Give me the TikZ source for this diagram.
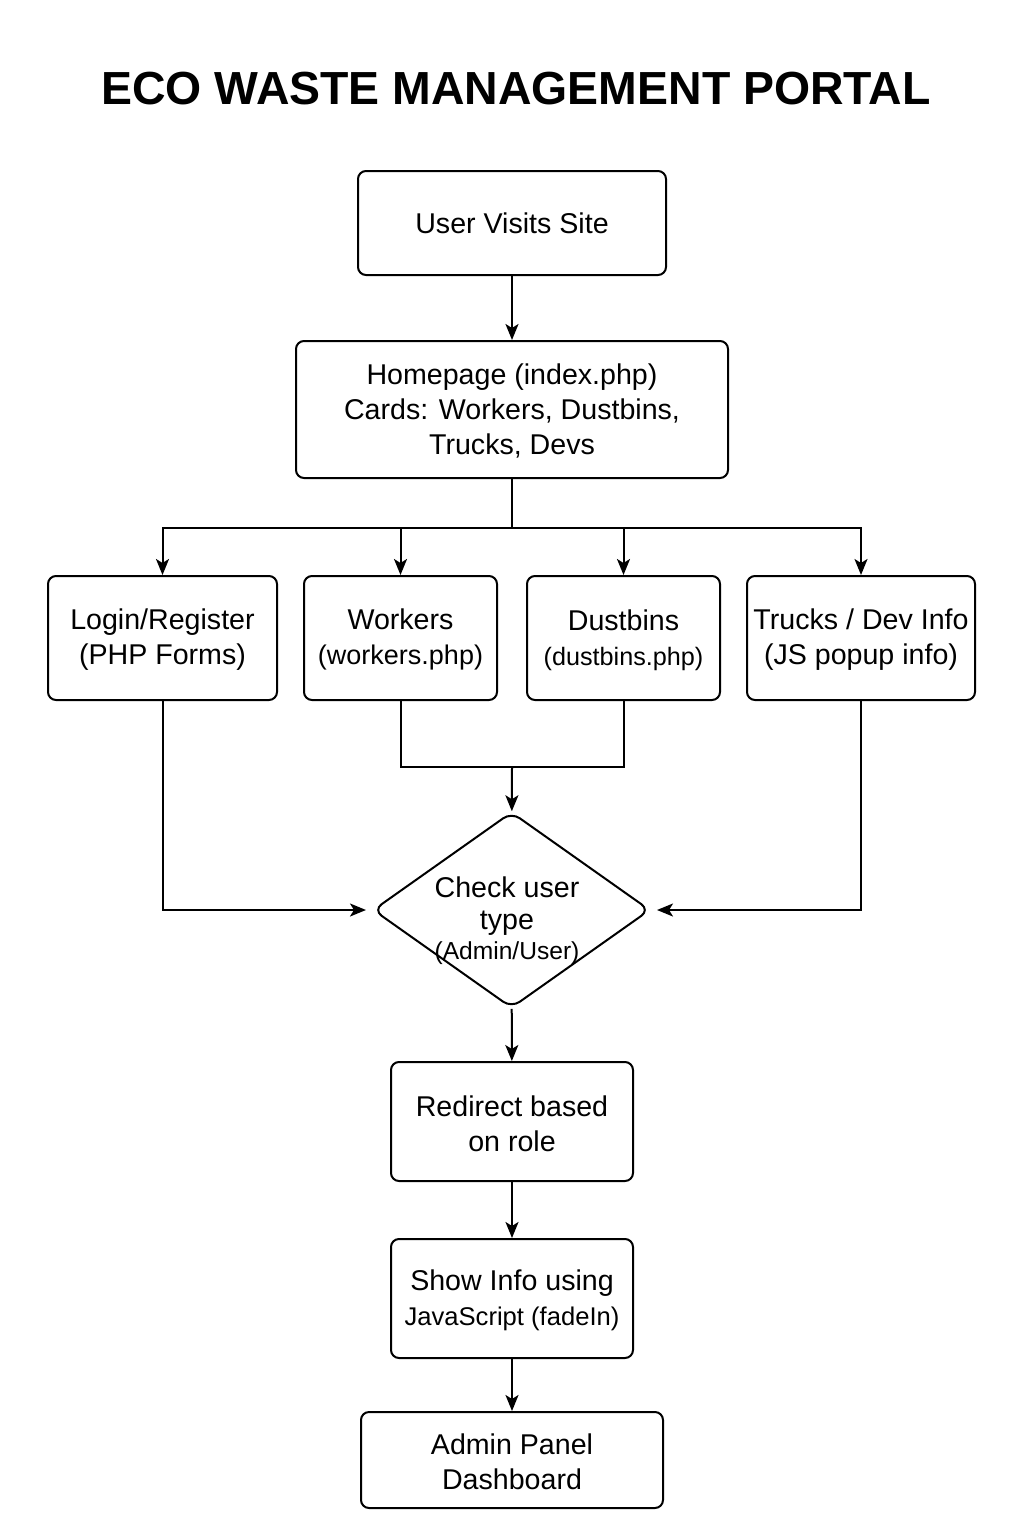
\documentclass[tikz,border=0pt]{standalone}
\usepackage{fontspec}
\setmainfont{Liberation Sans}
\usepackage{tikz}
\usetikzlibrary{arrows.meta,shapes.geometric}

\tikzset{
  box/.style={draw, line width=1pt, rounded corners=4pt, align=center, inner sep=1pt,
    font=\fontsize{14.3}{17.5}\selectfont},
  dia/.style={draw, diamond, line width=1pt, rounded corners=5pt, inner sep=0pt,
    minimum width=138.5pt, minimum height=98pt},
  arr/.style={-{Stealth[length=8pt,width=6.5pt,inset=2pt]}, line width=1pt},
  ln/.style={line width=1pt}
}
\newcommand{\smalltxt}[1]{{\fontsize{12.8}{17.5}\selectfont #1}}

\begin{document}
\begin{tikzpicture}[x=0.5pt,y=-0.5pt]
			\useasboundingbox (0,0) rectangle (1024,1536);
			\node at (516,89) (title) {\fontsize{23.2}{27}\selectfont\bfseries ECO WASTE MANAGEMENT PORTAL};
			\node[box, minimum width=154pt, minimum height=52pt] at (512,223) (visit) {User Visits Site};
			\node[box, minimum width=216pt, minimum height=68.5pt] at (512,409.5) (home)
				{\strut Homepage (index.php)\\Cards: Workers, Dustbins,\\Trucks, Devs};
			\node[box, minimum width=114.5pt, minimum height=62pt] at (162.5,638) (login) {\strut Login/Register\\(PHP Forms)};
			\node[box, minimum width=96.5pt, minimum height=62pt] at (400.5,638) (work)
				{\strut Workers\\{\fontsize{13.5}{17.5}\selectfont (workers.php)}};
			\node[box, minimum width=96.5pt, minimum height=62pt] at (623.5,638) (dust)
				{\strut Dustbins\\{\fontsize{12.6}{17.5}\selectfont (dustbins.php)}};
			\node[box, minimum width=114pt, minimum height=62pt] at (861,638) (truck) {\strut Trucks / Dev Info\\(JS popup info)};
			\node[dia] at (511.5,910) (chk) {};
			\node[align=center, font=\fontsize{14.3}{16}\selectfont] at (507,921) (chkt)
				{Check user\\type\\[-1pt]{\fontsize{12.3}{14}\selectfont (Admin/User)}};
			\node[box, minimum width=121pt, minimum height=59.5pt] at (512,1121.5) (redir) {\strut Redirect based\\on role};
			\node[box, minimum width=121pt, minimum height=59.5pt] at (512,1298.5) (show)
				{\strut Show Info using\\\smalltxt{JavaScript (fadeIn)}};
			\node[box, minimum width=151pt, minimum height=48pt] at (512,1460) (admin) {\strut Admin Panel\\Dashboard};
			% branch under the homepage
			\coordinate (br) at (512,528);
			\coordinate (mg) at (512,767);
			\draw[arr] (visit) -- (home);
			\draw[ln] (home) -- (br);
			\draw[arr] (br) -| (login.north);
			\draw[arr] (br) -| (work.north);
			\draw[arr] (br) -| (dust.north);
			\draw[arr] (br) -| (truck.north);
			\draw[ln] (work) |- (mg);
			\draw[ln] (dust) |- (mg);
			\draw[arr] (mg) -- (chk);
			\draw[arr, shorten >=3pt] (login) |- (chk.west);
			\draw[arr, shorten >=3pt] (truck) |- (chk.east);
			\draw[arr] (chk) -- (redir);
			\draw[arr] (redir) -- (show);
			\draw[arr] (show) -- (admin);
		\end{tikzpicture}
\end{document}
